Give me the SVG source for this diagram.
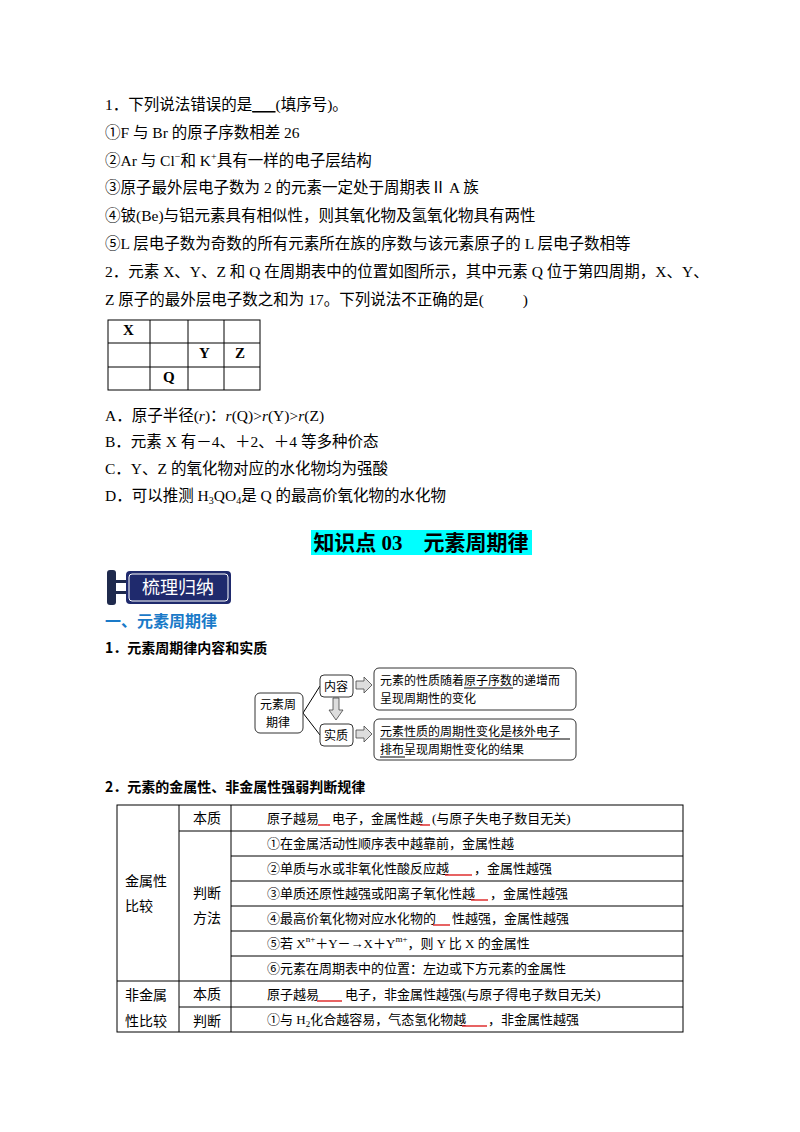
<svg xmlns="http://www.w3.org/2000/svg" width="800" height="1132" viewBox="0 0 800 1132">
<style>
text{font-family:"Liberation Serif","Noto Sans CJK SC",serif;font-size:15.5px;fill:#000}
.s{font-family:"Noto Sans CJK SC",sans-serif;font-size:13px}
.t{font-family:"Liberation Serif","Noto Sans CJK SC",serif;font-size:13px}
.b{font-family:"Noto Sans CJK SC",sans-serif;font-weight:bold;font-size:14px}
.sup{font-size:10px}
.sm{font-size:9px}
.pl{font-size:15px;font-weight:bold}
.g{stroke:#000;stroke-width:1;fill:none}
.r{stroke:#e03030;stroke-width:1.3}
.bx{fill:#fff;stroke:#333;stroke-width:1}
</style>
<rect width="800" height="1132" fill="#fff"/>
<g id="q1">
<text x="105" y="110">1．下列说法错误的是<tspan text-decoration="underline">_&#160;_&#160;</tspan>(填序号)。</text>
<text x="105" y="138">①F 与 Br 的原子序数相差 26</text>
<text x="105" y="166">②Ar 与 Cl<tspan class="sup" dy="-6">−</tspan><tspan dy="6">和 K</tspan><tspan class="sup" dy="-6">+</tspan><tspan dy="6">具有一样的电子层结构</tspan></text>
<text x="105" y="193">③原子最外层电子数为 2 的元素一定处于周期表Ⅱ A 族</text>
<text x="105" y="221">④铍(Be)与铝元素具有相似性，则其氧化物及氢氧化物具有两性</text>
<text x="105" y="249">⑤L 层电子数为奇数的所有元素所在族的序数与该元素原子的 L 层电子数相等</text>
<text x="105" y="277">2．元素 X、Y、Z 和 Q 在周期表中的位置如图所示，其中元素 Q 位于第四周期，X、Y、</text>
<text x="105" y="305">Z 原子的最外层电子数之和为 17。下列说法不正确的是(&#160;&#160;&#160;&#160;&#160;&#160;&#160;&#160;&#160;&#160;)</text>
</g>
<g id="ptable">
<rect x="108" y="320" width="152" height="70" class="g" stroke-width="1.3"/>
<path d="M150 320V390M188 320V390M224 320V390M108 343H260M108 367H260" class="g"/>
<text x="123" y="335" class="pl">X</text>
<text x="199" y="358" class="pl">Y</text>
<text x="235" y="358" class="pl">Z</text>
<text x="163" y="382" class="pl">Q</text>
</g>
<g id="opts">
<text x="105" y="421">A．原子半径(<tspan font-style="italic">r</tspan>)：<tspan font-style="italic">r</tspan>(Q)&gt;<tspan font-style="italic">r</tspan>(Y)&gt;<tspan font-style="italic">r</tspan>(Z)</text>
<text x="105" y="447">B．元素 X 有－4、＋2、＋4 等多种价态</text>
<text x="105" y="474">C．Y、Z 的氧化物对应的水化物均为强酸</text>
<text x="105" y="501">D．可以推测 H<tspan class="sup" dy="3">3</tspan><tspan dy="-3">QO</tspan><tspan class="sup" dy="3">4</tspan><tspan dy="-3">是 Q 的最高价氧化物的水化物</tspan></text>
</g>
<g id="title">
<rect x="311" y="530" width="221" height="25" fill="#00ffff"/>
<text x="421" y="550" text-anchor="middle" style="font-size:21px;font-weight:bold">知识点 03　元素周期律</text>
</g>
<g id="badge">
<rect x="107" y="570" width="9" height="35" rx="3" fill="#1f2a4d"/>
<rect x="114" y="580" width="14" height="3" fill="#1f2a4d"/>
<rect x="114" y="591" width="14" height="3" fill="#1f2a4d"/>
<rect x="126" y="571" width="105" height="33" rx="4" fill="#1f2a6d"/>
<rect x="129" y="574" width="99" height="27" rx="3" fill="none" stroke="#fff" stroke-width="1"/>
<text x="178" y="594" text-anchor="middle" class="s" style="fill:#fff;font-size:18px">梳理归纳</text>
</g>
<text x="105" y="627" class="b" style="fill:#1a7ac8;font-size:16px">一、元素周期律</text>
<text x="105" y="653" class="b">1．元素周期律内容和实质</text>
<g id="connectors">
<path d="M303 713L320 686M303 713L320 735" class="g" stroke="#555"/>
<path d="M356 681h8v-4l8 8l-8 8v-4h-8z" fill="#ddd" stroke="#444" stroke-width="0.8"/>
<path d="M356 730h8v-4l8 8l-8 8v-4h-8z" fill="#ddd" stroke="#444" stroke-width="0.8"/>
<path d="M333 698h6v12h4l-7 10l-7-10h4z" fill="#ddd" stroke="#444" stroke-width="0.8"/>
</g>
<g id="n1"><rect x="255" y="693" width="48" height="40" rx="5" class="bx"/>
<text x="260" y="709" class="s" style="font-size:12px">元素周</text><text x="266" y="727" class="s" style="font-size:12px">期律</text></g>
<g id="n2"><rect x="320" y="675" width="33" height="22" rx="4" class="bx"/><text x="336" y="691" text-anchor="middle" class="s" style="font-size:12px">内容</text></g>
<g id="n3"><rect x="320" y="724" width="33" height="22" rx="4" class="bx"/><text x="336" y="740" text-anchor="middle" class="s" style="font-size:12px">实质</text></g>
<g id="n4"><rect x="374" y="668" width="202" height="42" rx="5" class="bx"/>
<text x="380" y="685" class="s" style="font-size:12px">元素的性质随着原子序数的递增而</text><text x="380" y="703" class="s" style="font-size:12px">呈现周期性的变化</text>
<path d="M464 688H513" class="g" stroke-width="0.8"/></g>
<g id="n5"><rect x="374" y="719" width="202" height="41" rx="5" class="bx"/>
<text x="380" y="736" class="s" style="font-size:12px">元素性质的周期性变化是核外电子</text><text x="380" y="754" class="s" style="font-size:12px">排布呈现周期性变化的结果</text>
<path d="M380 739H570M380 757H405" class="g" stroke-width="0.8"/></g>
<text x="105" y="792" class="b">2．元素的金属性、非金属性强弱判断规律</text>
<g id="table">
<rect x="117" y="805" width="566" height="227" class="g"/>
<path d="M179 805V1032M231 805V1032M179 831H683M231 856H683M231 881H683M231 906H683M231 931H683M231 956H683M117 981H683M179 1007H683" class="g"/>
<text x="193" y="823" class="s" style="font-size:14px">本质</text>
<text x="125" y="886" class="s" style="font-size:14px">金属性</text><text x="125" y="911" class="s" style="font-size:14px">比较</text>
<text x="193" y="898" class="s" style="font-size:14px">判断</text><text x="193" y="923" class="s" style="font-size:14px">方法</text>
<text x="125" y="1000" class="s" style="font-size:14px">非金属</text><text x="125" y="1026" class="s" style="font-size:14px">性比较</text>
<text x="193" y="999" class="s" style="font-size:14px">本质</text><text x="193" y="1026" class="s" style="font-size:14px">判断</text>
<text x="267" y="823" class="t">原子越易<tspan x="332">电子，金属性越</tspan><tspan x="432">(与原子失电子数目无关)</tspan></text>
<text x="267" y="848" class="t">①在金属活动性顺序表中越靠前，金属性越</text>
<text x="267" y="873" class="t">②单质与水或非氧化性酸反应越<tspan x="474">，金属性越强</tspan></text>
<text x="267" y="898" class="t">③单质还原性越强或阳离子氧化性越<tspan x="490">，金属性越强</tspan></text>
<text x="267" y="923" class="t">④最高价氧化物对应水化物的<tspan x="452">性越强，金属性越强</tspan></text>
<text x="267" y="948" class="t">⑤若 X<tspan class="sm" dy="-6">n+</tspan><tspan dy="6">＋Y－→X＋Y</tspan><tspan class="sm" dy="-6">m+</tspan><tspan dy="6">，则 Y 比 X 的金属性</tspan></text>
<text x="267" y="973" class="t">⑥元素在周期表中的位置：左边或下方元素的金属性</text>
<text x="267" y="999" class="t">原子越易<tspan x="345">电子，非金属性越强(与原子得电子数目无关)</tspan></text>
<text x="267" y="1024" class="t">①与 H<tspan class="sm" dy="3">2</tspan><tspan dy="-3">化合越容易，气态氢化物越</tspan><tspan x="488">，非金属性越强</tspan></text>
<path d="M318 825H330M420 825H430M445 875H472M471 900H488M433 925H450M317 1001H342M462 1026H487" class="r"/>
</g>
</svg>
